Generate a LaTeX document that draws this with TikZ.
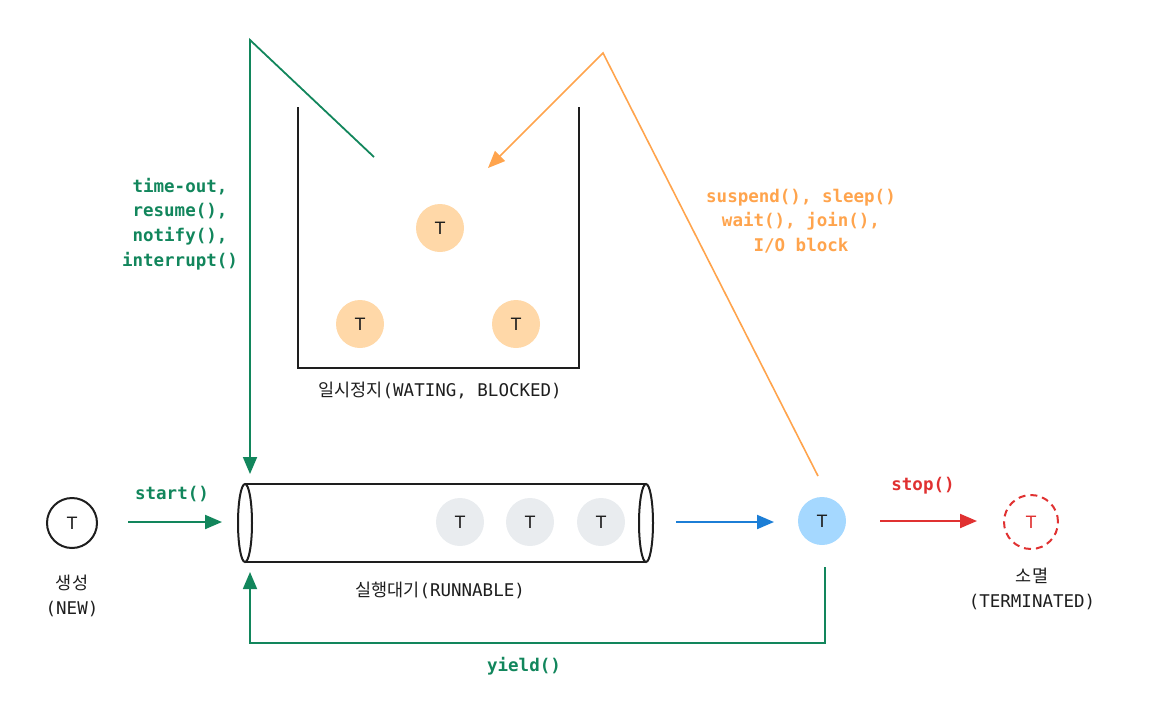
\documentclass[tikz,border=0pt]{standalone}
\usepackage{fontspec}
\setmainfont{DejaVu Sans Mono}
\newfontfamily\kr{Noto Sans CJK KR}
\newfontfamily\tfont{Liberation Sans}
\usetikzlibrary{arrows.meta}
\definecolor{cgreen}{RGB}{18,134,92}
\definecolor{corange}{RGB}{255,164,77}
\definecolor{cblue}{RGB}{28,126,214}
\definecolor{cred}{RGB}{224,49,49}
\definecolor{fillorange}{RGB}{255,216,168}
\definecolor{fillblue}{RGB}{165,216,255}
\definecolor{fillgray}{RGB}{233,236,239}
\definecolor{ink}{RGB}{30,30,30}
\tikzset{
  tcirc/.style={circle, minimum size=48pt, inner sep=0pt, text=ink, font=\tfont\fontsize{18}{18}\selectfont},
  lbl/.style={align=center, font=\fontsize{17.5}{24.7}\selectfont},
  clbl/.style={align=center, font=\bfseries\fontsize{17.5}{24.7}\selectfont},
  tip/.style={-{Triangle[length=17pt,width=14pt]}},
}
\begin{document}
\begin{tikzpicture}[x=1pt,y=-1pt]
\useasboundingbox (0,0) rectangle (1150,721);

% ---- waiting bucket ----
\coordinate (bTL) at (298,107);
\coordinate (bBL) at (298,368);
\coordinate (bBR) at (579,368);
\coordinate (bTR) at (579,107);
\draw[line width=2.6pt, ink] (bTL) -- (bBL) -- (bBR) -- (bTR);
\node[tcirc, fill=fillorange] (w1) at (440,228) {T};
\node[tcirc, fill=fillorange] (w2) at (360,324) {T};
\node[tcirc, fill=fillorange] (w3) at (516,324) {T};
\node[lbl, text=ink] (wlbl) at (440,390) {{\kr 일시정지}(WATING, BLOCKED)};

% ---- new ----
\node[tcirc, draw=ink, line width=2pt, fill=white, minimum size=50pt] (new) at (72,523) {T};
\node[lbl, text=ink] (newlbl) at (72,596) {{\kr 생성}\\(NEW)};

% ---- runnable queue (cylinder) ----
\node[minimum width=401pt, minimum height=79pt, inner sep=0pt] (runq) at (445.5,523) {};
\draw[line width=2pt, ink] (245,484) -- (646,484) (245,562) -- (646,562);
\draw[line width=2pt, ink, fill=white] (245,523) ellipse [x radius=7, y radius=39];
\draw[line width=2pt, ink, fill=white] (646,523) ellipse [x radius=7, y radius=39];
\node[tcirc, fill=fillgray] (r1) at (460,522) {T};
\node[tcirc, fill=fillgray] (r2) at (530,522) {T};
\node[tcirc, fill=fillgray] (r3) at (601,522) {T};
\node[lbl, text=ink] (rlbl) at (440,590) {{\kr 실행대기}(RUNNABLE)};

% ---- running ----
\node[tcirc, fill=fillblue] (run) at (822,521) {T};

% ---- terminated ----
\node[tcirc, draw=cred, line width=2pt, dash pattern=on 7pt off 5pt, text=cred, minimum size=54pt] (term) at (1031,522) {T};
\node[lbl, text=ink] (tlbl) at (1032,589) {{\kr 소멸}\\(TERMINATED)};

% ---- start() ----
\coordinate (s0) at (128,522);
\coordinate (s1) at (222,522);
\draw[tip, cgreen, line width=2pt] (s0) -- (s1);
\node[clbl, text=cgreen] (slbl) at (172,494) {start()};

% ---- to running ----
\coordinate (b0) at (676,522);
\coordinate (b1) at (774,522);
\draw[tip, cblue, line width=2pt] (b0) -- (b1);

% ---- stop() ----
\coordinate (k0) at (880,521);
\coordinate (k1) at (977,521);
\draw[tip, cred, line width=2pt] (k0) -- (k1);
\node[clbl, text=cred] (klbl) at (923,486) {stop()};

% ---- yield() ----
\coordinate (y0) at (825,567);
\coordinate (y1) at (825,643);
\coordinate (y2) at (250,643);
\coordinate (y3) at (250,572);
\draw[tip, cgreen, line width=1.8pt] (y0) -- (y1) -- (y2) -- (y3);
\node[clbl, text=cgreen] (ylbl) at (524,666) {yield()};

% ---- waiting -> runnable ----
\coordinate (g0) at (374,157);
\coordinate (g1) at (250,40);
\coordinate (g2) at (250,474);
\draw[tip, cgreen, line width=1.8pt] (g0) -- (g1) -- (g2);
\node[clbl, text=cgreen] (glbl) at (180,224) {time-out,\\resume(),\\notify(),\\interrupt()};

% ---- running -> waiting ----
\coordinate (o0) at (818,476);
\coordinate (o1) at (603,53);
\coordinate (o2) at (488,168);
\draw[tip, corange, line width=1.6pt] (o0) -- (o1) -- (o2);
\node[clbl, text=corange] (olbl) at (801,221) {suspend(), sleep()\\wait(), join(),\\I/O block};
\end{tikzpicture}
\end{document}
